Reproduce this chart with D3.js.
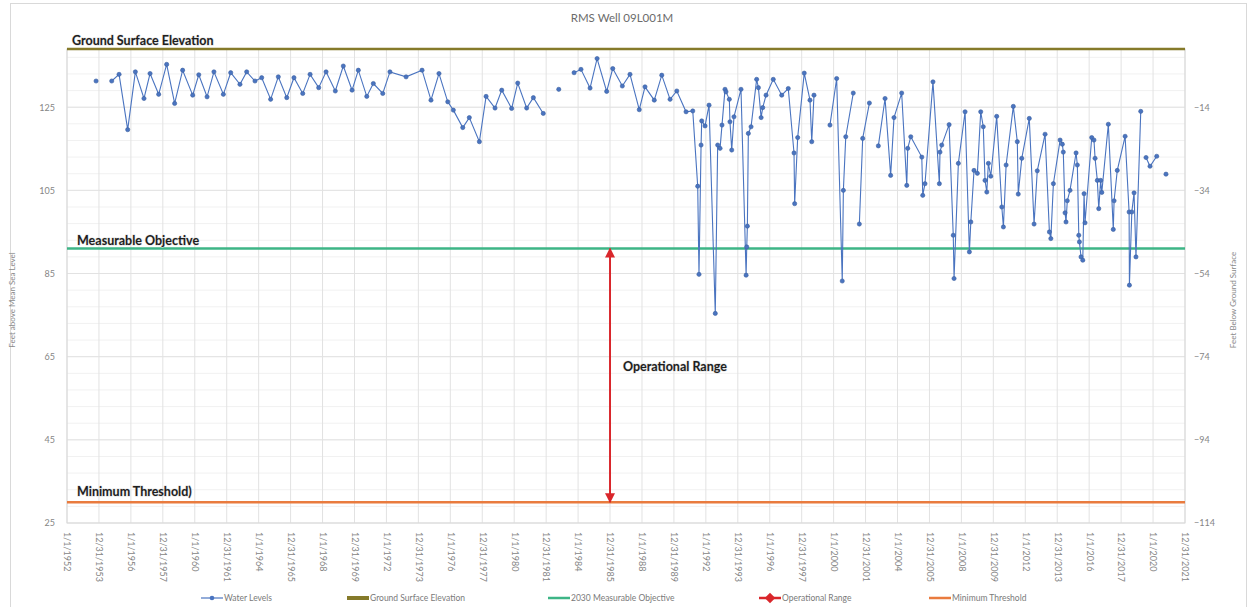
<!DOCTYPE html>
<html>
<head>
<meta charset="utf-8">
<script src="https://cdn.jsdelivr.net/npm/d3@7"></script>
<style>
  body { margin: 0; background: #fff; }
  svg { font-family: Lato, "Open Sans", sans-serif; }
</style>
</head>
<body>
<svg width="1248" height="607"></svg>
<script>
// water levels, decimal year and feet above MSL (null = gap in the record)
var wlYears = [1953.82, 1953.9,
  1954.80, 1955.26, 1955.80, 1956.28, 1956.82, 1957.20, 1957.74, 1958.24, 1958.74, 1959.24,
  1959.87, 1960.25, 1960.77, 1961.20, 1961.79, 1962.25, 1962.83, 1963.25, 1963.77, 1964.19,
  1964.75, 1965.23, 1965.76, 1966.21, 1966.76, 1967.22, 1967.76, 1968.22, 1968.80, 1969.30,
  1969.85, 1970.24, 1970.77, 1971.18, 1971.77, 1972.22, 1973.23, 1974.23, 1974.79, 1975.29,
  1975.84, 1976.19, 1976.78, 1977.19, 1977.82, 1978.24, 1978.80, 1979.22, 1979.84, 1980.22,
  1980.78, 1981.20, 1981.82, 1982.3,
  1982.79, 1983.3,
  1983.75, 1984.18, 1984.75, 1985.19, 1985.79, 1986.17, 1986.77, 1987.25, 1987.83, 1988.19,
  1988.77, 1989.24, 1989.76, 1990.18, 1990.76, 1991.18, 1991.49, 1991.57, 1991.70, 1991.74,
  1991.95, 1992.20, 1992.59, 1992.74, 1992.89, 1993.01, 1993.20, 1993.26, 1993.47, 1993.51,
  1993.62, 1993.76, 1994.20, 1994.52, 1994.56, 1994.60, 1994.66, 1994.83, 1995.18, 1995.29,
  1995.46, 1995.56, 1995.77, 1996.22, 1996.75, 1997.16, 1997.52, 1997.56, 1997.75, 1998.16,
  1998.52, 1998.63, 1998.77, 1999.3,
  1999.77, 2000.19, 2000.54, 2000.61, 2000.76, 2001.23, 2001.4,
  2001.61, 2001.82, 2002.24, 2002.5,
  2002.80, 2003.22, 2003.57, 2003.78, 2004.26, 2004.58, 2004.64, 2004.83, 2005.52, 2005.58,
  2005.72, 2006.22, 2006.62, 2006.66, 2006.77, 2007.23, 2007.49, 2007.54, 2007.81, 2008.23,
  2008.50, 2008.59, 2008.79, 2009.00, 2009.21, 2009.37, 2009.48, 2009.59, 2009.69, 2009.84,
  2010.21, 2010.53, 2010.63, 2010.80, 2011.25, 2011.50, 2011.56, 2011.78, 2012.25, 2012.55,
  2012.75, 2013.24, 2013.51, 2013.60, 2013.76, 2014.18, 2014.32, 2014.38, 2014.49, 2014.55,
  2014.63, 2014.80, 2015.18, 2015.26, 2015.35, 2015.39, 2015.49, 2015.60, 2015.68, 2015.74,
  2016.16, 2016.30, 2016.37, 2016.51, 2016.60, 2016.72, 2016.79, 2017.20, 2017.51, 2017.56,
  2017.76, 2018.25, 2018.50, 2018.52, 2018.67, 2018.81, 2018.93, 2019.23, 2019.4,
  2019.56, 2019.81, 2020.23, 2020.5,
  2020.81];
var wlLevels = [131.3, null,
  131.3, 132.9, 119.6, 133.5, 127.1, 133.1, 128.1, 135.3, 125.9, 133.9,
  127.9, 132.8, 127.5, 133.5, 128.1, 133.3, 130.5, 133.5, 131.3, 132.1,
  126.9, 132.3, 127.3, 132.1, 128.3, 132.9, 129.7, 133.5, 128.9, 134.9,
  129.1, 133.9, 127.6, 130.7, 128.3, 133.5, 132.3, 133.9, 126.7, 133.1,
  126.3, 124.3, 120.1, 122.5, 116.7, 127.6, 124.8, 129.1, 124.7, 130.8,
  124.8, 127.3, 123.5, null,
  129.3, null,
  133.3, 134.1, 129.6, 136.7, 128.8, 134.3, 130.1, 132.9, 124.4, 129.9,
  126.7, 132.7, 126.9, 128.9, 123.9, 124.1, 106.0, 84.8, 115.9, 121.7,
  120.5, 125.5, 75.4, 115.9, 115.1, 120.7, 129.3, 128.7, 126.9, 121.5,
  114.7, 122.7, 129.3, 84.6, 91.4, 96.4, 118.7, 120.3, 131.7, 129.7,
  122.5, 124.9, 127.9, 131.7, 127.9, 129.5, 114.0, 101.8, 117.7, 133.2,
  126.7, 116.7, 127.9, null,
  120.7, 131.9, 83.2, 105.0, 117.9, 128.4, null,
  96.9, 117.5, 126.0, null,
  115.7, 127.1, 108.6, 122.5, 128.4, 106.2, 115.1, 117.9, 113.0, 103.8,
  106.6, 131.1, 106.6, 114.2, 115.9, 120.8, 94.2, 83.8, 111.5, 123.9,
  90.2, 97.4, 109.8, 109.1, 123.9, 120.3, 107.4, 104.6, 111.5, 108.4,
  122.8, 101.0, 96.2, 111.1, 125.2, 116.7, 104.1, 112.7, 122.3, 96.9,
  109.7, 118.5, 95.0, 93.4, 106.6, 117.1, 116.1, 114.2, 99.6, 97.4,
  102.5, 105.0, 114.0, 111.1, 94.2, 92.6, 89.0, 88.2, 104.2, 97.2,
  117.7, 117.1, 112.7, 107.4, 100.6, 107.4, 104.5, 120.9, 95.6, 102.5,
  109.8, 118.0, 99.8, 82.2, 99.8, 104.4, 89.0, 124.0, null,
  112.9, 110.8, 113.2, null,
  108.9];

// reference levels (feet above MSL)
var groundSurface = 139;
var measurableObjective = 91;
var minimumThreshold = 30;
var opRangeYear = 1986.0;

// axes
var xTickYears = [];
for (var yr = 1952; yr <= 2022; yr += 2) xTickYears.push(yr);
var xTickLabels = ["1/1/1952", "12/31/1953", "1/1/1956", "12/31/1957", "1/1/1960", "12/31/1961",
  "1/1/1964", "12/31/1965", "1/1/1968", "12/31/1969", "1/1/1972", "12/31/1973",
  "1/1/1976", "12/31/1977", "1/1/1980", "12/31/1981", "1/1/1984", "12/31/1985",
  "1/1/1988", "12/31/1989", "1/1/1992", "12/31/1993", "1/1/1996", "12/31/1997",
  "1/1/2000", "12/31/2001", "1/1/2004", "12/31/2005", "1/1/2008", "12/31/2009",
  "1/1/2012", "12/31/2013", "1/1/2016", "12/31/2017", "1/1/2020", "12/31/2021"];
var leftTicks = [25, 45, 65, 85, 105, 125];
var rightTicks = [-114, -94, -74, -54, -34, -14];

var legendNames = ["Water Levels", "Ground Surface Elevation", "2030 Measurable Objective",
  "Operational Range", "Minimum Threshold"];

var cBlue = "#4a74c0", cGse = "#857a2a", cMo = "#3db586", cMt = "#e97b3e", cRed = "#d9262b";

var svg = d3.select("svg");
var pLeft = 67, pRight = 1185, pTop = 49, pBottom = 523;

var x = d3.scaleLinear().domain([1952, 2022]).range([pLeft, pRight]);
var y = d3.scaleLinear().domain([25, 139]).range([pBottom, pTop]);
var y2 = d3.scaleLinear().domain([-114, 0]).range([pBottom, pTop]);

// outer chart border
svg.append("rect").attr("x", 10.5).attr("y", 3.5).attr("width", 1236).attr("height", 620)
  .attr("fill", "none").attr("stroke", "#d9d9d9");

// title
svg.append("text").attr("x", 622).attr("y", 22).attr("text-anchor", "middle")
  .attr("font-size", 11.5).attr("fill", "#6b6b6b").text("RMS Well 09L001M");

// gridlines - minor every 4 ft, major every 20
var g = svg.append("g");
g.selectAll("line.minor").data(d3.range(29, 139, 4)).enter().append("line")
  .attr("x1", pLeft).attr("x2", pRight).attr("y1", d => y(d)).attr("y2", d => y(d))
  .attr("stroke", "#f1f1f1");
g.selectAll("line.major").data(leftTicks).enter().append("line")
  .attr("x1", pLeft).attr("x2", pRight).attr("y1", d => y(d)).attr("y2", d => y(d))
  .attr("stroke", "#e2e2e2");
g.selectAll("line.vert").data(xTickYears).enter().append("line")
  .attr("x1", d => x(d)).attr("x2", d => x(d)).attr("y1", pTop).attr("y2", pBottom)
  .attr("stroke", "#e2e2e2");
g.append("rect").attr("x", pLeft).attr("y", pTop).attr("width", pRight - pLeft).attr("height", pBottom - pTop)
  .attr("fill", "none").attr("stroke", "#d9d9d9");

// left axis
var yAxis = d3.axisLeft(y).tickValues(leftTicks).tickSize(0).tickPadding(12);
svg.append("g").attr("transform", "translate(" + pLeft + ",0)").call(yAxis)
  .call(a => a.select(".domain").remove())
  .selectAll("text").attr("font-size", 9).attr("fill", "#858585").attr("font-family", "Lato");

// right axis
var yAxis2 = d3.axisRight(y2).tickValues(rightTicks).tickSize(0).tickPadding(9);
svg.append("g").attr("transform", "translate(" + pRight + ",0)").call(yAxis2)
  .call(a => a.select(".domain").remove())
  .selectAll("text").attr("font-size", 9).attr("fill", "#858585").attr("font-family", "Lato");

// x axis, rotated date labels
var xAxis = d3.axisBottom(x).tickValues(xTickYears).tickSize(0).tickPadding(0)
  .tickFormat((d, i) => xTickLabels[i]);
svg.append("g").attr("transform", "translate(0," + pBottom + ")").call(xAxis)
  .call(a => a.select(".domain").remove())
  .selectAll("text")
  .attr("transform", "rotate(90)").attr("x", 9).attr("y", 0).attr("dy", "0.35em")
  .attr("text-anchor", "start")
  .attr("font-size", 9).attr("fill", "#858585").attr("font-family", "Lato");

// axis titles
svg.append("text").attr("transform", "translate(15,300) rotate(-90)").attr("text-anchor", "middle")
  .attr("font-size", 8).attr("fill", "#8a8a8a").text("Feet above Mean Sea Level");
svg.append("text").attr("transform", "translate(1236,300) rotate(-90)").attr("text-anchor", "middle")
  .attr("font-size", 8).attr("fill", "#8a8a8a").text("Feet Below Ground Surface");

// reference lines
function hline(v, color, w) {
  svg.append("line").attr("x1", pLeft).attr("x2", pRight).attr("y1", y(v)).attr("y2", y(v))
    .attr("stroke", color).attr("stroke-width", w);
}
hline(groundSurface, cGse, 2.5);
hline(measurableObjective, cMo, 2.5);
hline(minimumThreshold, cMt, 2.5);

// water levels
var wl = wlYears.map((d, i) => [d, wlLevels[i]]);
var line = d3.line().defined(d => d[1] != null).x(d => x(d[0])).y(d => y(d[1]));
svg.append("path").datum(wl).attr("d", line).attr("fill", "none")
  .attr("stroke", cBlue).attr("stroke-width", 1.1);
svg.selectAll("circle.wl").data(wl.filter(d => d[1] != null)).enter().append("circle")
  .attr("cx", d => x(d[0])).attr("cy", d => y(d[1])).attr("r", 2.1)
  .attr("fill", cBlue).attr("stroke", "#3b5f9f").attr("stroke-width", 0.6);

// operational range arrow
svg.append("defs").append("marker").attr("id", "ah").attr("viewBox", "0 0 10 10")
  .attr("refX", 9).attr("refY", 5).attr("markerWidth", 10).attr("markerHeight", 10)
  .attr("markerUnits", "userSpaceOnUse").attr("orient", "auto-start-reverse")
  .append("path").attr("d", "M0,0 L10,5 L0,10 z").attr("fill", cRed);
svg.append("line").attr("x1", x(opRangeYear)).attr("x2", x(opRangeYear))
  .attr("y1", y(measurableObjective)).attr("y2", y(minimumThreshold))
  .attr("stroke", cRed).attr("stroke-width", 2)
  .attr("marker-start", "url(#ah)").attr("marker-end", "url(#ah)");

// bold annotations
function note(tx, ty, s) {
  svg.append("text").attr("x", tx).attr("y", ty).attr("font-size", 12.5).attr("font-weight", "bold")
    .attr("fill", "#1e1e1e").style("paint-order", "stroke").attr("stroke", "#dcdcdc")
    .attr("stroke-width", 1).text(s);
}
note(72, 45, "Ground Surface Elevation");
note(77, 245, "Measurable Objective");
note(77, 496, "Minimum Threshold)");
note(x(opRangeYear) + 13, 371, "Operational Range");

// legend
var legX = [201, 347, 548, 759, 929];
var legColors = [cBlue, cGse, cMo, cRed, cMt];
var legend = svg.append("g");
legendNames.forEach(function (n, i) {
  var lx = legX[i], ly = 598;
  legend.append("line").attr("x1", lx).attr("x2", lx + 22).attr("y1", ly).attr("y2", ly)
    .attr("stroke", legColors[i]).attr("stroke-width", i === 0 ? 1.2 : (i === 1 ? 4 : 2.5));
  if (i === 0) {
    legend.append("circle").attr("cx", lx + 11).attr("cy", ly).attr("r", 2.3).attr("fill", cBlue);
  }
  if (i === 3) {
    legend.append("path").attr("d", d3.symbol(d3.symbolDiamond2, 70)())
      .attr("transform", "translate(" + (lx + 11) + "," + ly + ")").attr("fill", cRed);
  }
  legend.append("text").attr("x", lx + 23).attr("y", ly + 3).attr("font-size", 8.5)
    .attr("fill", "#7a7a7a").text(n);
});
</script>
</body>
</html>
